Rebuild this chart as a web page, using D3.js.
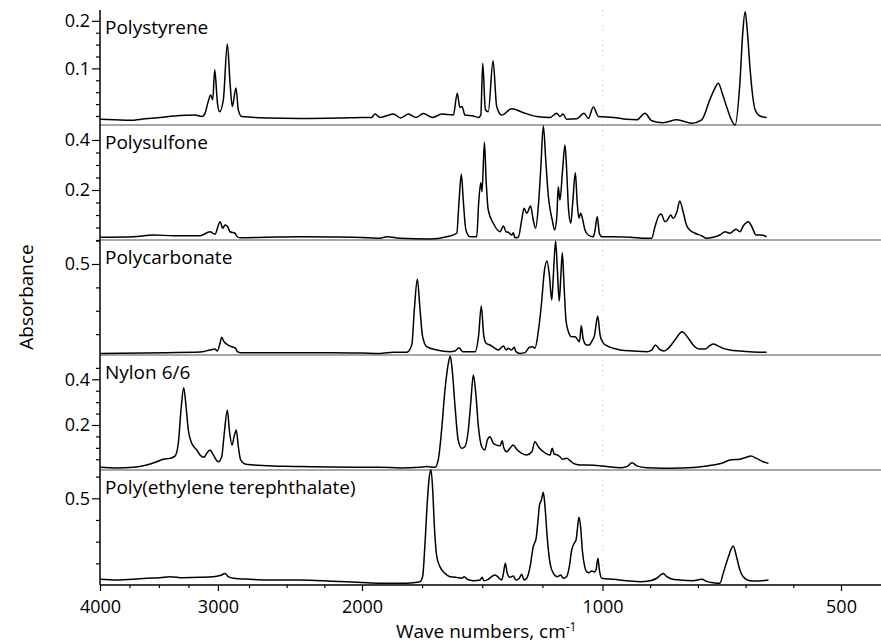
<!DOCTYPE html>
<html><head><meta charset="utf-8">
<script src="https://cdn.jsdelivr.net/npm/d3@7"></script>
<style>
body{margin:0;background:#fff}
svg{display:block}
text{font-family:"Open Sans",sans-serif;fill:#000}
</style>
</head><body>
<svg id="chart" width="881" height="644"></svg>
<script>
// ---------- data (wavenumber cm-1, absorbance) ----------
const panelNames = ["Polystyrene","Polysulfone","Polycarbonate","Nylon 6/6","Poly(ethylene terephthalate)"];

const polystyrene = [[4000,-0.007],[3873,-0.008],[3746,-0.009],[3618,-0.006],[3491,-0.003],[3322,0.001],[3194,0.002],[3135,-0.001],[3109,0.006],[3084,0.029],[3061,0.044],[3044,0.034],[3027,0.097],[3004,0.027],[2986,0.009],[2954,0.034],[2920,0.151],[2897,0.069],[2878,0.020],[2847,0.059],[2827,0.013],[2799,-0.001],[2633,-0.004],[2412,-0.005],[2146,-0.004],[2000,-0.003],[1960,-0.003],[1946,0.004],[1925,-0.003],[1870,0.004],[1839,-0.004],[1807,0.004],[1775,-0.003],[1745,0.005],[1706,-0.003],[1669,0.004],[1620,0.002],[1604,0.048],[1593,0.018],[1584,0.020],[1572,0.002],[1537,0.000],[1516,-0.003],[1506,0.002],[1498,0.111],[1487,0.013],[1475,0.009],[1455,0.116],[1440,0.020],[1419,0.002],[1378,0.015],[1329,0.007],[1274,-0.001],[1218,-0.003],[1190,0.006],[1177,-0.001],[1164,0.004],[1149,-0.007],[1107,-0.006],[1077,0.006],[1059,-0.005],[1038,0.019],[1017,-0.001],[977,-0.003],[949,-0.007],[928,-0.008],[911,0.006],[897,-0.010],[873,-0.014],[844,-0.008],[813,-0.015],[792,-0.008],[775,0.034],[766,0.055],[757,0.069],[749,0.048],[740,0.020],[722,-0.019],[712,0.069],[706,0.174],[701,0.219],[696,0.174],[691,0.104],[685,0.041],[680,0.013],[670,0.000],[656,-0.003]];

const polysulfone = [[4000,0.011],[3717,0.013],[3548,0.020],[3378,0.017],[3152,0.017],[3067,0.033],[3025,0.023],[2982,0.073],[2959,0.047],[2940,0.060],[2917,0.053],[2897,0.033],[2855,0.027],[2836,0.013],[2813,0.009],[2633,0.011],[2412,0.013],[2200,0.012],[2000,0.010],[1925,0.007],[1897,0.013],[1842,0.007],[1717,0.004],[1648,0.013],[1606,0.027],[1597,0.147],[1587,0.264],[1579,0.160],[1568,0.040],[1551,0.013],[1523,0.013],[1515,0.147],[1506,0.229],[1501,0.193],[1491,0.391],[1484,0.240],[1475,0.120],[1454,0.067],[1426,0.033],[1412,0.056],[1401,0.033],[1392,0.031],[1378,0.020],[1371,0.029],[1364,0.009],[1350,0.011],[1336,0.080],[1326,0.127],[1315,0.107],[1299,0.136],[1288,0.080],[1278,0.047],[1267,0.133],[1257,0.280],[1246,0.457],[1236,0.320],[1225,0.173],[1215,0.107],[1209,0.080],[1199,0.040],[1190,0.093],[1184,0.213],[1177,0.160],[1166,0.280],[1156,0.380],[1149,0.280],[1141,0.120],[1132,0.067],[1124,0.147],[1113,0.269],[1105,0.147],[1098,0.087],[1091,0.107],[1082,0.080],[1073,0.040],[1059,0.020],[1038,0.013],[1031,0.040],[1022,0.093],[1013,0.027],[1003,0.013],[977,0.013],[942,0.011],[907,0.007],[897,0.007],[890,0.053],[883,0.093],[877,0.104],[869,0.073],[864,0.080],[857,0.100],[852,0.087],[844,0.113],[838,0.156],[831,0.113],[824,0.060],[817,0.040],[806,0.027],[792,0.017],[782,0.007],[768,0.011],[754,0.020],[743,0.033],[733,0.027],[720,0.043],[712,0.033],[705,0.056],[694,0.073],[687,0.053],[678,0.020],[666,0.020],[656,0.013]];

const polycarbonate = [[4000,0.022],[3435,0.026],[3152,0.029],[3067,0.040],[3025,0.045],[3005,0.035],[2982,0.076],[2968,0.108],[2948,0.084],[2925,0.072],[2897,0.061],[2869,0.055],[2849,0.049],[2835,0.031],[2813,0.026],[2412,0.026],[2200,0.026],[2000,0.024],[1925,0.022],[1870,0.028],[1814,0.028],[1793,0.067],[1782,0.263],[1770,0.418],[1759,0.263],[1749,0.120],[1731,0.058],[1689,0.040],[1634,0.031],[1613,0.035],[1597,0.052],[1581,0.031],[1530,0.031],[1515,0.120],[1504,0.275],[1494,0.120],[1484,0.076],[1468,0.067],[1447,0.049],[1433,0.040],[1412,0.061],[1401,0.040],[1392,0.049],[1378,0.040],[1367,0.055],[1360,0.031],[1343,0.022],[1322,0.026],[1304,0.055],[1290,0.058],[1281,0.049],[1267,0.138],[1253,0.298],[1242,0.459],[1231,0.516],[1221,0.441],[1211,0.307],[1205,0.424],[1195,0.623],[1188,0.477],[1180,0.302],[1173,0.441],[1167,0.560],[1160,0.388],[1152,0.201],[1142,0.138],[1128,0.111],[1114,0.111],[1103,0.094],[1096,0.084],[1088,0.170],[1081,0.103],[1074,0.076],[1066,0.067],[1055,0.067],[1046,0.084],[1033,0.120],[1020,0.222],[1010,0.120],[1000,0.084],[991,0.063],[977,0.049],[963,0.040],[935,0.035],[907,0.031],[897,0.040],[889,0.067],[881,0.045],[871,0.035],[862,0.049],[848,0.094],[833,0.138],[820,0.103],[810,0.067],[796,0.045],[785,0.045],[775,0.063],[768,0.072],[757,0.061],[747,0.049],[733,0.040],[712,0.035],[691,0.031],[656,0.028]];

const nylon66 = [[4000,0.015],[3858,0.012],[3717,0.015],[3604,0.025],[3519,0.039],[3463,0.050],[3406,0.054],[3364,0.064],[3336,0.120],[3313,0.266],[3290,0.363],[3270,0.280],[3251,0.178],[3222,0.120],[3180,0.091],[3152,0.069],[3118,0.059],[3095,0.076],[3067,0.091],[3039,0.069],[2997,0.039],[2968,0.061],[2946,0.164],[2920,0.266],[2903,0.178],[2880,0.112],[2863,0.149],[2844,0.178],[2827,0.105],[2807,0.047],[2777,0.029],[2722,0.025],[2633,0.022],[2522,0.019],[2412,0.018],[2200,0.016],[2000,0.015],[1925,0.015],[1842,0.012],[1759,0.015],[1731,0.018],[1696,0.015],[1683,0.047],[1669,0.178],[1655,0.353],[1641,0.470],[1633,0.502],[1625,0.441],[1613,0.280],[1600,0.134],[1585,0.098],[1572,0.105],[1558,0.178],[1548,0.295],[1537,0.419],[1527,0.339],[1516,0.193],[1502,0.105],[1489,0.091],[1479,0.134],[1468,0.149],[1454,0.120],[1440,0.112],[1426,0.109],[1417,0.131],[1410,0.098],[1398,0.083],[1385,0.098],[1371,0.112],[1357,0.094],[1336,0.076],[1315,0.069],[1294,0.083],[1281,0.127],[1267,0.105],[1246,0.083],[1218,0.069],[1209,0.098],[1201,0.073],[1188,0.069],[1177,0.061],[1166,0.050],[1149,0.054],[1135,0.044],[1121,0.032],[1094,0.025],[1038,0.024],[991,0.018],[963,0.013],[949,0.018],[938,0.035],[928,0.021],[907,0.013],[873,0.011],[838,0.012],[803,0.015],[768,0.025],[747,0.035],[733,0.047],[712,0.050],[698,0.059],[689,0.064],[677,0.054],[663,0.039],[652,0.032]];

const pet = [[4000,0.033],[3858,0.029],[3717,0.033],[3604,0.039],[3491,0.042],[3406,0.048],[3293,0.042],[3152,0.044],[3039,0.048],[2968,0.058],[2940,0.067],[2912,0.048],[2869,0.039],[2744,0.033],[2633,0.029],[2412,0.029],[2200,0.022],[2000,0.014],[1925,0.010],[1842,0.010],[1787,0.013],[1759,0.019],[1748,0.048],[1738,0.240],[1728,0.490],[1720,0.625],[1713,0.663],[1706,0.548],[1699,0.336],[1689,0.163],[1676,0.106],[1655,0.067],[1634,0.048],[1606,0.044],[1585,0.039],[1575,0.048],[1562,0.033],[1537,0.025],[1509,0.029],[1501,0.044],[1493,0.025],[1475,0.033],[1461,0.048],[1447,0.058],[1433,0.044],[1419,0.029],[1412,0.067],[1404,0.125],[1396,0.067],[1385,0.044],[1371,0.052],[1360,0.029],[1346,0.039],[1336,0.062],[1326,0.029],[1315,0.039],[1301,0.106],[1288,0.221],[1276,0.269],[1268,0.375],[1262,0.461],[1254,0.490],[1246,0.535],[1238,0.433],[1229,0.260],[1218,0.125],[1204,0.067],[1188,0.048],[1174,0.058],[1163,0.039],[1149,0.048],[1138,0.106],[1128,0.202],[1118,0.240],[1110,0.260],[1104,0.327],[1098,0.390],[1091,0.336],[1084,0.202],[1074,0.106],[1066,0.077],[1056,0.071],[1045,0.081],[1035,0.075],[1027,0.087],[1019,0.154],[1013,0.087],[1003,0.039],[977,0.033],[949,0.025],[921,0.019],[900,0.025],[886,0.039],[873,0.067],[865,0.048],[855,0.035],[838,0.029],[810,0.025],[792,0.033],[782,0.021],[768,0.013],[754,0.010],[747,0.067],[736,0.163],[726,0.225],[719,0.163],[712,0.087],[705,0.048],[691,0.025],[677,0.023],[652,0.029]];

const xMajorTicks = [4000,3000,2000,1000,500];
const xMinorTicks = [3750,3500,3250,2750,2500,2250,1750,1500,1250,900,800,700,600];
const yMajorTicks = [[0.1,0.2],[0.2,0.4],[0.5],[0.2,0.4],[0.5]];
const yMinorTicks = [
  [0,0.025,0.05,0.075,0.125,0.15,0.175],
  [0,0.05,0.1,0.15,0.25,0.3,0.35],
  [0.125,0.25,0.375,0.625],
  [0.05,0.1,0.15,0.25,0.3,0.35,0.45],
  [0.125,0.25,0.375,0.625]
];
const spectra = [polystyrene, polysulfone, polycarbonate, nylon66, pet];

// ---------- layout ----------
const svg = d3.select("#chart");
const left = 100, right = 881, top0 = 10, panelH = 115, bottom = top0 + 5*panelH; // 585
const x = d3.scaleLinear()
  .domain([4000, 2800, 2000, 1000, 500, 400])
  .range([100, 241.5, 362, 602.5, 841, 888.7]);

const yScales = [
  d3.scaleLinear().domain([0, 0.2]).range([116, 20.8]),
  d3.scaleLinear().domain([0, 0.4]).range([240, 140]),
  d3.scaleLinear().domain([0, 0.5]).range([357.5, 264]),
  d3.scaleLinear().domain([0, 0.4]).range([470.7, 379.3]),
  d3.scaleLinear().domain([0, 0.5]).range([585, 498.3])
];

// faint dotted guide at 1000
svg.append("line")
  .attr("x1", x(1000)).attr("x2", x(1000))
  .attr("y1", top0).attr("y2", bottom)
  .attr("stroke", "#cfcfcf").attr("stroke-width", 1)
  .attr("stroke-dasharray", "1,4");

// panel separators
for (let i = 1; i < 5; i++) {
  const yy = top0 + i*panelH;
  svg.append("line")
    .attr("x1", left).attr("x2", right).attr("y1", yy).attr("y2", yy)
    .attr("stroke", "#8a8a8a").attr("stroke-width", 1.4);
}

// spectra
const line = (ys) => d3.line()
  .x(d => x(d[0])).y(d => ys(d[1]))
  .curve(d3.curveMonotoneX);

spectra.forEach((data, i) => {
  svg.append("path")
    .datum(data)
    .attr("d", line(yScales[i]))
    .attr("fill", "none")
    .attr("stroke", "#000")
    .attr("stroke-width", 1.5)
    .attr("stroke-linejoin", "round");
});

// y axes per panel
yScales.forEach((ys, i) => {
  const gMaj = svg.append("g").attr("transform", `translate(${left},0)`)
    .call(d3.axisLeft(ys).tickValues(yMajorTicks[i]).tickSize(8).tickPadding(2)
      .tickFormat(d3.format(".1f")));
  gMaj.select(".domain").remove();
  gMaj.selectAll("line").attr("stroke", "#000").attr("stroke-width", 1.2);
  gMaj.selectAll("text").attr("font-size", 18).attr("font-family", '"Open Sans",sans-serif');

  const gMin = svg.append("g").attr("transform", `translate(${left},0)`)
    .call(d3.axisLeft(ys).tickValues(yMinorTicks[i]).tickSize(4).tickFormat(""));
  gMin.select(".domain").remove();
  gMin.selectAll("line").attr("stroke", "#000").attr("stroke-width", 1.2);

  svg.append("text")
    .attr("x", 105).attr("y", top0 + i*panelH + 24)
    .attr("font-size", 19)
    .text(panelNames[i]);
});

// y axis line
svg.append("line").attr("x1", left).attr("x2", left).attr("y1", top0).attr("y2", bottom)
  .attr("stroke", "#000").attr("stroke-width", 1.5);

// x axis
const gx = svg.append("g").attr("transform", `translate(0,${bottom})`)
  .call(d3.axisBottom(x).tickValues(xMajorTicks).tickSize(6).tickPadding(9)
    .tickFormat(d3.format("d")));
gx.select(".domain").remove();
gx.selectAll("line").attr("stroke", "#000").attr("stroke-width", 1.2);
gx.selectAll("text").attr("font-size", 18).attr("font-family", '"Open Sans",sans-serif');

const gxm = svg.append("g").attr("transform", `translate(0,${bottom})`)
  .call(d3.axisBottom(x).tickValues(xMinorTicks).tickSize(3).tickFormat(""));
gxm.select(".domain").remove();
gxm.selectAll("line").attr("stroke", "#000").attr("stroke-width", 1.2);

svg.append("line").attr("x1", left).attr("x2", right).attr("y1", bottom).attr("y2", bottom)
  .attr("stroke", "#000").attr("stroke-width", 1.5);

// titles
const xt = svg.append("text").attr("x", 396).attr("y", 637.5).attr("font-size", 19);
xt.append("tspan").text("Wave numbers, cm");
xt.append("tspan").attr("font-size", 12).attr("dy", -7).text("-1");

svg.append("text")
  .attr("transform", "translate(33,297) rotate(-90)")
  .attr("text-anchor", "middle")
  .attr("font-size", 19)
  .text("Absorbance");
</script>
</body></html>
